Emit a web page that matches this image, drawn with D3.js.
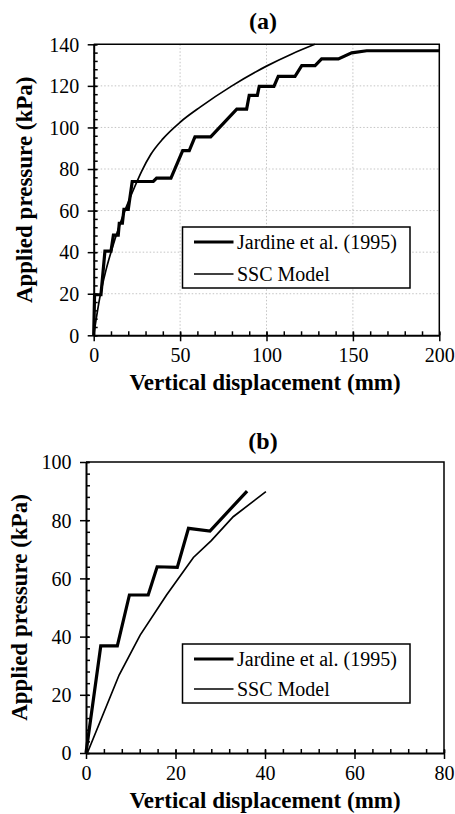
<!DOCTYPE html>
<html lang="en">
<head>
    <meta charset="UTF-8">
    <title>Applied pressure vs vertical displacement</title>
    <script src="https://d3js.org/d3.v7.min.js"></script>
    <style>
        body { margin: 0; background: #fff; }
    </style>
</head>
<body>
<script>
    // ---- data ----
    const seriesNames = ["Jardine et al. (1995)", "SSC Model"];

    // panel (a)
    const xTicksA = [0, 50, 100, 150, 200];
    const yTicksA = [0, 20, 40, 60, 80, 100, 120, 140];
    const jardineA = [
        [0, 0], [0.5, 19.5], [4.2, 19.5], [6.5, 40.5], [10, 40.5], [11.4, 48.2], [14.2, 48.2],
        [14.8, 53.9], [16.6, 53.9], [17.5, 60.6], [20, 60.6], [22.3, 74], [34.5, 74],
        [36.4, 75.6], [44.7, 75.6], [51.5, 88.8], [55.3, 88.8], [58.6, 95.5], [67.7, 95.5],
        [82.8, 108.8], [88.5, 108.8], [90, 115.4], [94.7, 115.4], [95.8, 119.8], [104.3, 119.8],
        [106.8, 124.6], [116.5, 124.6], [120.4, 129.7], [128.1, 129.7], [131.9, 133], [141.6, 133],
        [149.3, 135.9], [158, 136.9], [200, 136.9]
    ];
    const sscA = [
        [0, 0], [3.5, 18], [7, 31], [10, 40], [15, 53], [19, 62], [23.5, 71], [27.8, 79],
        [33, 87], [40, 94.5], [50, 102.5], [62, 110], [80, 120], [100, 129.5], [115, 135.5], [128, 140]
    ];

    // panel (b)
    const xTicksB = [0, 20, 40, 60, 80];
    const yTicksB = [0, 20, 40, 60, 80, 100];
    const jardineB = [
        [0, 0], [3.3, 36.8], [7.0, 36.8], [9.7, 54.3], [13.9, 54.3], [15.9, 64.0],
        [20.4, 63.8], [22.9, 77.2], [27.7, 76.3], [36.0, 90.0]
    ];
    const sscB = [
        [0.3, 0], [7.4, 26.8], [12.1, 40.5], [18, 54.3], [24, 67.2], [28, 73],
        [32.9, 81.2], [40.2, 89.8]
    ];

    const FONT = '"Liberation Serif"';

    const svg = d3.select("body").append("svg")
        .attr("width", 455)
        .attr("height", 814);

    function txt(sel, size, bold) {
        return sel.attr("font-family", null)
            .style("font-family", FONT)
            .attr("font-size", size)
            .attr("font-weight", bold ? "bold" : "normal")
            .attr("fill", "#000");
    }

    function drawPanel(o) {
        const x = d3.scaleLinear().domain([o.xTicks[0], o.xTicks[o.xTicks.length - 1]]).range([o.left, o.right]);
        const y = d3.scaleLinear().domain([o.yTicks[0], o.yTicks[o.yTicks.length - 1]]).range([o.bottom, o.top]);
        const g = svg.append("g");

        if (o.grid) {
            g.selectAll(".gx").data(o.xTicks.slice(1, -1)).enter().append("line")
                .attr("x1", d => x(d)).attr("x2", d => x(d))
                .attr("y1", o.top).attr("y2", o.bottom)
                .attr("stroke", "#c4c4c4").attr("stroke-width", 1).attr("stroke-dasharray", "1.5,2");
            g.selectAll(".gy").data(o.yTicks.slice(1, -1)).enter().append("line")
                .attr("y1", d => y(d)).attr("y2", d => y(d))
                .attr("x1", o.left).attr("x2", o.right)
                .attr("stroke", "#c4c4c4").attr("stroke-width", 1).attr("stroke-dasharray", "1.5,2");
        }

        // top and right frame
        g.append("path")
            .attr("d", `M${o.left},${o.top}H${o.right}V${o.bottom}`)
            .attr("fill", "none").attr("stroke", "#000").attr("stroke-width", 1.5);

        const xMinor = d3.range(x.domain()[0], x.domain()[1] + 1e-9, o.xMinorStep);
        const yMinor = d3.range(y.domain()[0], y.domain()[1] + 1e-9, o.yMinorStep);

        // inside minor ticks
        const mx = g.append("g").attr("transform", `translate(0,${o.bottom})`)
            .call(d3.axisBottom(x).tickValues(xMinor).tickSize(-4).tickFormat(""));
        const my = g.append("g").attr("transform", `translate(${o.left},0)`)
            .call(d3.axisLeft(y).tickValues(yMinor).tickSize(-4).tickFormat(""));
        [mx, my].forEach(a => { a.select(".domain").remove(); a.selectAll("line").attr("stroke-width", 1.5); });

        // major ticks crossing the axis, with labels
        const ax = g.append("g").attr("transform", `translate(0,${o.bottom})`)
            .call(d3.axisBottom(x).tickValues(o.xTicks).tickSize(6).tickSizeOuter(0));
        ax.attr("font-family", null).attr("font-size", null);
        ax.selectAll(".tick line").attr("y1", -3).attr("stroke-width", 1.5);
        txt(ax.selectAll("text"), 20, false).attr("y", 26.5).attr("dy", null);
        ax.select(".domain").attr("stroke-width", 2);

        const ay = g.append("g").attr("transform", `translate(${o.left},0)`)
            .call(d3.axisLeft(y).tickValues(o.yTicks).tickSize(6).tickSizeOuter(0));
        ay.attr("font-family", null).attr("font-size", null);
        ay.selectAll(".tick line").attr("x1", 3).attr("stroke-width", 1.5);
        txt(ay.selectAll("text"), 20, false).attr("x", -14.5).attr("dy", "0.34em");
        ay.select(".domain").attr("stroke-width", 2);

        // series
        g.append("path").datum(o.ssc)
            .attr("d", d3.line().x(d => x(d[0])).y(d => y(d[1]))
                .curve(o.smooth ? d3.curveMonotoneX : d3.curveLinear))
            .attr("fill", "none").attr("stroke", "#000").attr("stroke-width", 1.7);
        g.append("path").datum(o.jardine)
            .attr("d", d3.line().x(d => x(d[0])).y(d => y(d[1])))
            .attr("fill", "none").attr("stroke", "#000").attr("stroke-width", 3.2)
            .attr("stroke-linejoin", "miter");

        // titles
        txt(g.append("text"), 24, true)
            .attr("x", 263).attr("y", o.titleY).attr("text-anchor", "middle").text(o.title);
        txt(g.append("text"), 23, true)
            .attr("x", 265).attr("y", o.bottom + 55).attr("text-anchor", "middle")
            .text("Vertical displacement (mm)");
        txt(g.append("text"), 23, true)
            .attr("transform", `translate(${o.yTitleX},${(o.top + o.bottom) / 2}) rotate(-90)`)
            .attr("text-anchor", "middle").text("Applied pressure (kPa)");

        // legend
        const lg = g.append("g");
        lg.append("rect")
            .attr("x", 182.5).attr("y", o.legend.top)
            .attr("width", 227.5).attr("height", o.legend.h)
            .attr("fill", "#fff").attr("stroke", "#000").attr("stroke-width", 1.5);
        seriesNames.forEach((name, i) => {
            const ly = o.legend.rows[i];
            lg.append("line").attr("x1", 194).attr("x2", 233.5).attr("y1", ly).attr("y2", ly)
                .attr("stroke", "#000").attr("stroke-width", i === 0 ? 3.2 : 1.7);
            txt(lg.append("text"), 20, false)
                .attr("x", 237).attr("y", ly).attr("dy", "0.34em").text(name);
        });
    }

    drawPanel({
        title: "(a)", titleY: 29,
        left: 93.7, right: 439.3, top: 44.3, bottom: 335.3,
        xTicks: xTicksA, yTicks: yTicksA, xMinorStep: 10, yMinorStep: 4,
        grid: true, smooth: true, yTitleX: 32,
        jardine: jardineA, ssc: sscA,
        legend: { top: 227, h: 61, rows: [242, 274] }
    });

    drawPanel({
        title: "(b)", titleY: 449,
        left: 86, right: 444, top: 462, bottom: 753,
        xTicks: xTicksB, yTicks: yTicksB, xMinorStep: 4, yMinorStep: 4,
        grid: false, smooth: false, yTitleX: 27,
        jardine: jardineB, ssc: sscB,
        legend: { top: 644, h: 59, rows: [659, 689] }
    });
</script>
</body>
</html>
